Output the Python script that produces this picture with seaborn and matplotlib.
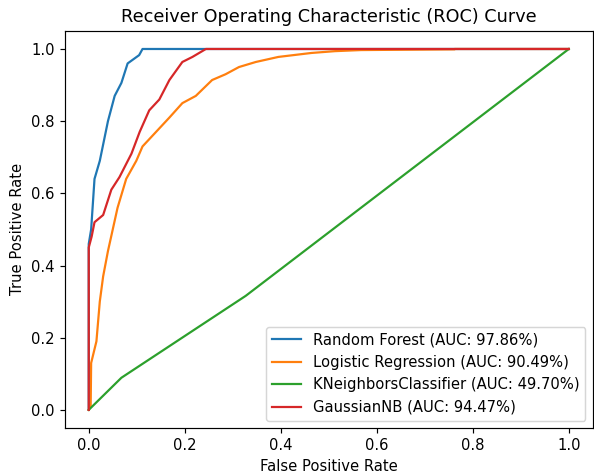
import pandas as pd
import seaborn as sns
import matplotlib.pyplot as plt

# ROC points
rf_fpr = [0.0, 0.0, 0.005, 0.012, 0.023, 0.04, 0.054, 0.068, 0.081, 0.105, 0.112, 1.0]
rf_tpr = [0.0, 0.46, 0.50, 0.64, 0.69, 0.80, 0.87, 0.906, 0.96, 0.983, 1.0, 1.0]

lr_fpr = [0.0, 0.004, 0.005, 0.016, 0.023, 0.03, 0.04, 0.05, 0.06, 0.078, 0.099, 0.112,
          0.14, 0.168, 0.195, 0.223, 0.257, 0.285, 0.313, 0.348, 0.395, 0.464, 0.513,
          0.567, 0.762, 0.762, 1.0]
lr_tpr = [0.0, 0.01, 0.13, 0.19, 0.30, 0.37, 0.44, 0.50, 0.56, 0.64, 0.69, 0.73,
          0.77, 0.81, 0.85, 0.87, 0.914, 0.93, 0.95, 0.964, 0.978, 0.989, 0.994,
          0.997, 0.999, 1.0, 1.0]

knn_fpr = [0.0, 0.068, 0.327, 1.0]
knn_tpr = [0.0, 0.089, 0.316, 1.0]

nb_fpr = [0.0, 0.0, 0.006, 0.012, 0.03, 0.047, 0.064, 0.089, 0.106, 0.126, 0.147,
          0.168, 0.195, 0.216, 0.244, 1.0]
nb_tpr = [0.0, 0.45, 0.48, 0.52, 0.54, 0.61, 0.645, 0.71, 0.77, 0.83, 0.86,
          0.914, 0.964, 0.978, 1.0, 1.0]

models = ['Random Forest (AUC: 97.86%)', 'Logistic Regression (AUC: 90.49%)',
          'KNeighborsClassifier (AUC: 49.70%)', 'GaussianNB (AUC: 94.47%)']

curves = [(rf_fpr, rf_tpr), (lr_fpr, lr_tpr), (knn_fpr, knn_tpr), (nb_fpr, nb_tpr)]
frames = []
for name, (f, t) in zip(models, curves):
    frames.append(pd.DataFrame({'fpr': f, 'tpr': t, 'model': name}))
data = pd.concat(frames, ignore_index=True)

dpi = 106
fig = plt.figure(figsize=(594 / dpi, 476 / dpi), dpi=dpi)
ax = fig.add_axes([0.109, 0.101, 0.889, 0.834])
sns.lineplot(data=data, x='fpr', y='tpr', hue='model', sort=False, estimator=None,
             palette='tab10', linewidth=1.5, ax=ax)
ax.set_xlabel('False Positive Rate')
ax.set_ylabel('True Positive Rate')
ax.set_title('Receiver Operating Characteristic (ROC) Curve')
ax.legend(loc='lower right')
fig.savefig('out.png', dpi=dpi)
